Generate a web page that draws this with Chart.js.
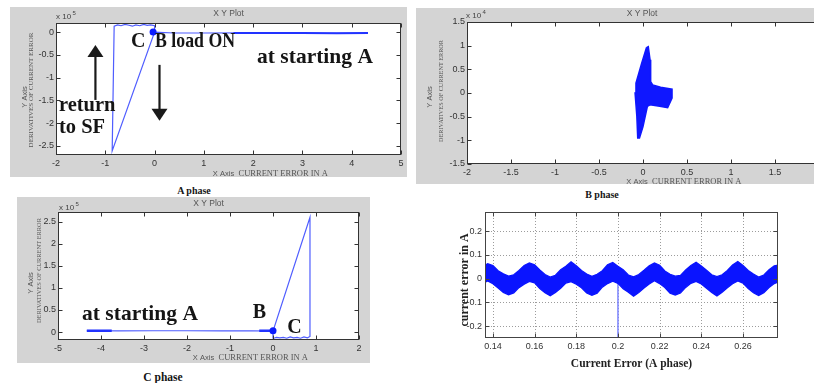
<!DOCTYPE html>
<html>
<head>
<meta charset="utf-8">
<script src="https://cdn.jsdelivr.net/npm/chart.js@4.4.1/dist/chart.umd.min.js"></script>
<style>
body { margin: 0; width: 814px; height: 383px; overflow: hidden; background: #fff; position: relative; }
canvas { position: absolute; }
.cap { position: absolute; font-family: "Liberation Serif", "Times New Roman", serif; font-weight: bold; color: #151515; white-space: nowrap; transform: translate(-50%, -50%); }
</style>
</head>
<body>
<canvas id="chartA" width="397" height="170" style="left:10px;top:7px"></canvas>
<canvas id="chartB" width="420" height="176" style="left:416px;top:8px"></canvas>
<canvas id="chartC" width="353" height="166" style="left:17px;top:197px"></canvas>
<canvas id="chartD" width="360" height="180" style="left:440px;top:200px"></canvas>
<div class="cap" style="left:194px;top:190px;font-size:10px">A phase</div>
<div class="cap" style="left:602px;top:194px;font-size:10px">B phase</div>
<div class="cap" style="left:163px;top:377px;font-size:11.5px">C phase</div>
<script>
// A phase trajectory (current error in A vs derivative, x 10^5)
const aTrajX = [4.33, 3.5, 2.6, 1.8, 1.0, 0.4, 0.0, -0.86, -0.82, -0.75, -0.68, -0.6, -0.52, -0.45, -0.38, -0.3, -0.22, -0.15, -0.08, 0.0, 0.0];
const aTrajY = [-0.02, -0.025, -0.02, -0.015, -0.02, -0.02, 0.0, -2.61, 0.13, 0.16, 0.14, 0.17, 0.15, 0.13, 0.16, 0.14, 0.17, 0.15, 0.16, 0.14, 0.02];
const aStartX = [4.33, 3.7, 3.0, 2.3, 1.6];
const aStartY = [-0.02, -0.025, -0.02, -0.02, -0.02];
const aLoadX = [-0.03];
const aLoadY = [0.0];
const aTicksX = [-2, -1, 0, 1, 2, 3, 4, 5];
const aTicksY = [-2.5, -2, -1.5, -1, -0.5, 0];

// B phase cloud outline (x 10^4)
const bBlobX = [0.04, 0.06, 0.08, 0.087, 0.11, 0.2, 0.33, 0.33, 0.28, 0.19, 0.08, 0.05, 0.0, -0.04, -0.06, -0.07, -0.09, -0.08, -0.015, 0.04];
const bBlobY = [0.96, 0.98, 0.70, 0.24, 0.17, 0.12, 0.08, -0.11, -0.31, -0.28, -0.25, -0.28, -0.71, -0.95, -0.95, -0.49, 0.0, 0.21, 0.63, 0.96];
const bTicksX = [-2, -1.5, -1, -0.5, 0, 0.5, 1, 1.5, 2];
const bTicksY = [-1.5, -1, -0.5, 0, 0.5, 1, 1.5];

// C phase trajectory (x 10^5)
const cTrajX = [-4.33, -3.6, -2.8, -2.0, -1.2, -0.5, 0.0, 0.86, 0.86, 0.8, 0.72, 0.64, 0.56, 0.48, 0.4, 0.32, 0.24, 0.16, 0.08, 0.02, 0.0];
const cTrajY = [0.03, 0.025, 0.03, 0.03, 0.025, 0.03, 0.02, 2.6, -0.1, -0.13, -0.11, -0.14, -0.12, -0.13, -0.11, -0.14, -0.12, -0.13, -0.12, -0.14, -0.04];
const cStartX = [-4.33, -3.75];
const cStartY = [0.03, 0.03];
const cNearX = [-0.32, 0.0];
const cNearY = [0.03, 0.03];
const cLoadX = [0.0];
const cLoadY = [0.03];
const cTicksX = [-5, -4, -3, -2, -1, 0, 1, 2];
const cTicksY = [0, 0.5, 1, 1.5, 2, 2.5];

// Current error (A phase) over time: band envelopes
const dTime = [0.135, 0.1375, 0.14, 0.1425, 0.145, 0.1475, 0.15, 0.1525, 0.155, 0.1575, 0.16, 0.1625, 0.165, 0.1675, 0.17, 0.1725, 0.175, 0.1775, 0.18, 0.1825, 0.185, 0.1875, 0.19, 0.1925, 0.195, 0.1975, 0.2, 0.2025, 0.205, 0.2075, 0.21, 0.2125, 0.215, 0.2175, 0.22, 0.2225, 0.225, 0.2275, 0.23, 0.2325, 0.235, 0.2375, 0.24, 0.2425, 0.245, 0.2475, 0.25, 0.2525, 0.255, 0.2575, 0.26, 0.2625, 0.265, 0.2675, 0.27, 0.2725, 0.275, 0.2775];
const dUpper = [0.050, 0.062, 0.055, 0.033, 0.020, 0.010, 0.016, 0.034, 0.055, 0.066, 0.058, 0.036, 0.017, 0.006, 0.014, 0.037, 0.052, 0.070, 0.054, 0.034, 0.019, 0.009, 0.018, 0.033, 0.058, 0.068, 0.052, 0.037, 0.015, 0.007, 0.017, 0.035, 0.054, 0.066, 0.056, 0.032, 0.018, 0.010, 0.013, 0.036, 0.055, 0.069, 0.053, 0.035, 0.016, 0.008, 0.016, 0.034, 0.057, 0.072, 0.055, 0.034, 0.019, 0.006, 0.015, 0.037, 0.053, 0.058];
const dLower = [-0.020, -0.010, -0.022, -0.040, -0.058, -0.068, -0.060, -0.038, -0.024, -0.012, -0.018, -0.042, -0.060, -0.072, -0.058, -0.041, -0.019, -0.013, -0.024, -0.039, -0.061, -0.070, -0.062, -0.036, -0.021, -0.011, -0.020, -0.043, -0.057, -0.074, -0.059, -0.040, -0.023, -0.009, -0.021, -0.038, -0.062, -0.069, -0.061, -0.037, -0.020, -0.012, -0.023, -0.041, -0.058, -0.073, -0.057, -0.039, -0.022, -0.010, -0.019, -0.042, -0.059, -0.071, -0.060, -0.038, -0.021, -0.012];
const dSpikeX = [0.2, 0.2];
const dSpikeY = [0.0, -0.3];
const dTicksX = [0.14, 0.16, 0.18, 0.2, 0.22, 0.24, 0.26];
const dTicksY = [-0.2, -0.1, 0, 0.1, 0.2];

const SANS = '"Liberation Sans", Arial, sans-serif';
const SERIF = '"Liberation Serif", "Times New Roman", serif';

Chart.defaults.font.family = SANS;
Chart.defaults.font.size = 9;
Chart.defaults.color = '#333';

function pts(xs, ys) {
    return xs.map((x, i) => ({ x: x, y: ys[i] }));
}

function lineSet(xs, ys, color, width, extra) {
    return Object.assign({
        data: pts(xs, ys),
        showLine: true,
        borderColor: color,
        backgroundColor: color,
        borderWidth: width,
        pointRadius: 0,
        tension: 0
    }, extra || {});
}

function dotSet(xs, ys, color, r) {
    return { data: pts(xs, ys), showLine: false, pointRadius: r, pointBackgroundColor: color, pointBorderWidth: 0 };
}

function axis(ticks, min, max, pad, fit) {
    return {
        type: 'linear',
        min: min,
        max: max,
        grid: { display: false, drawTicks: false },
        border: { display: false },
        ticks: { autoSkip: false, maxRotation: 0, padding: pad, callback: v => String(v) },
        afterBuildTicks: s => { s.ticks = ticks.map(v => ({ value: v })); },
        afterFit: fit
    };
}

function drawText(ctx, t, x, y) {
    ctx.save();
    ctx.font = t.font;
    ctx.fillStyle = t.color || '#151515';
    ctx.textAlign = t.align || 'left';
    ctx.textBaseline = t.baseline || 'alphabetic';
    ctx.translate(x, y);
    if (t.rotate) ctx.rotate(-Math.PI / 2);
    if (t.maxWidth) ctx.fillText(t.text, 0, 0, t.maxWidth);
    else ctx.fillText(t.text, 0, 0);
    ctx.restore();
}

// matlab-like frame: grey panel, white plot box, inward ticks, notes
function frame(spec) {
    return {
        id: 'matlabFrame',
        beforeDraw(chart) {
            const ctx = chart.ctx, a = chart.chartArea;
            ctx.save();
            if (spec.panel) {
                ctx.fillStyle = spec.panel;
                ctx.fillRect(0, 0, chart.width, chart.height);
            }
            ctx.fillStyle = '#fff';
            ctx.fillRect(a.left, a.top, a.right - a.left, a.bottom - a.top);
            if (spec.grid) {
                const sx = chart.scales.x, sy = chart.scales.y;
                ctx.strokeStyle = '#9c9c9c';
                ctx.lineWidth = 1;
                ctx.setLineDash([1, 2]);
                ctx.beginPath();
                sx.ticks.forEach(t => {
                    const p = Math.round(sx.getPixelForValue(t.value)) + 0.5;
                    ctx.moveTo(p, a.top); ctx.lineTo(p, a.bottom);
                });
                sy.ticks.forEach(t => {
                    const p = Math.round(sy.getPixelForValue(t.value)) + 0.5;
                    ctx.moveTo(a.left, p); ctx.lineTo(a.right, p);
                });
                ctx.stroke();
            }
            ctx.restore();
        },
        afterDatasetsDraw(chart) {
            const ctx = chart.ctx, a = chart.chartArea;
            const sx = chart.scales.x, sy = chart.scales.y;
            const L = Math.round(a.left) + 0.5, R = Math.round(a.right) - 0.5;
            const T = Math.round(a.top) + 0.5, B = Math.round(a.bottom) - 0.5;
            ctx.save();
            ctx.strokeStyle = spec.box || '#333';
            ctx.lineWidth = 1;
            ctx.strokeRect(L, T, R - L, B - T);
            ctx.beginPath();
            sx.ticks.forEach(t => {
                const p = Math.round(sx.getPixelForValue(t.value)) + 0.5;
                ctx.moveTo(p, B); ctx.lineTo(p, B - 4);
                ctx.moveTo(p, T); ctx.lineTo(p, T + 4);
            });
            sy.ticks.forEach(t => {
                const p = Math.round(sy.getPixelForValue(t.value)) + 0.5;
                ctx.moveTo(L, p); ctx.lineTo(L + 4, p);
                ctx.moveTo(R, p); ctx.lineTo(R - 4, p);
            });
            ctx.stroke();

            (spec.arrows || []).forEach(ar => {
                const x = sx.getPixelForValue(ar.x);
                const y1 = sy.getPixelForValue(ar.from), y2 = sy.getPixelForValue(ar.to);
                const dir = y2 > y1 ? 1 : -1;
                ctx.strokeStyle = '#1a1a1a';
                ctx.fillStyle = '#1a1a1a';
                ctx.lineWidth = 2.2;
                ctx.beginPath();
                ctx.moveTo(x, y1); ctx.lineTo(x, y2 - dir * 11);
                ctx.stroke();
                ctx.beginPath();
                ctx.moveTo(x, y2);
                ctx.lineTo(x - 8, y2 - dir * 12);
                ctx.lineTo(x + 8, y2 - dir * 12);
                ctx.closePath();
                ctx.fill();
            });

            (spec.texts || []).forEach(t => {
                const x = t.data ? sx.getPixelForValue(t.x) : t.x;
                const y = t.data ? sy.getPixelForValue(t.y) : t.y;
                drawText(ctx, t, x, y);
            });
            ctx.restore();
        }
    };
}

function makeChart(id, datasets, scales, padding, spec) {
    return new Chart(document.getElementById(id), {
        type: 'scatter',
        data: { datasets: datasets },
        options: {
            responsive: false,
            animation: false,
            layout: { padding: padding },
            scales: scales,
            plugins: { legend: { display: false }, tooltip: { enabled: false } }
        },
        plugins: [frame(spec)]
    });
}

// shared grey-panel labels
function panelTexts(cx, titleY, expX, expY, expo, xLabY, yAxX, yAxY, derX, derY, derW) {
    return [
        { text: 'X Y Plot', x: cx, y: titleY, font: '8.5px ' + SANS, color: '#555', align: 'center', baseline: 'middle' },
        { text: 'x 10', x: expX, y: expY, font: '8px ' + SANS, color: '#444' },
        { text: expo, x: expX + 16.5, y: expY - 4, font: '6px ' + SANS, color: '#444' },
        { text: 'X Axis', x: cx - 5, y: xLabY, font: '7.5px ' + SANS, color: '#555', align: 'center', baseline: 'middle' },
        { text: 'CURRENT ERROR IN A', x: cx + 10, y: xLabY, font: '8.5px ' + SERIF, color: '#555', baseline: 'middle' },
        { text: 'Y Axis', x: yAxX, y: yAxY, font: '7.5px ' + SANS, color: '#555', align: 'center', baseline: 'middle', rotate: true },
        { text: 'DERIVATIVES OF CURRENT ERROR', x: derX, y: derY, font: '7px ' + SERIF, color: '#555', align: 'center', baseline: 'middle', rotate: true, maxWidth: derW }
    ];
}

const boldSerif = size => 'bold ' + size + 'px ' + SERIF;

// A phase
makeChart('chartA', [
    dotSet(aLoadX, aLoadY, '#0b1cff', 3.5),
    lineSet(aStartX, aStartY, '#2233ff', 2.2),
    lineSet(aTrajX, aTrajY, '#4f5dff', 1.2)
], {
    x: axis(aTicksX, -2, 5, 3, s => { s.height = 22; }),
    y: axis(aTicksY, -2.7, 0.2, 2, s => { s.width = 46; })
}, { top: 16, right: 6, left: 0, bottom: 0 }, {
    panel: '#d4d4d4',
    arrows: [{ x: -1.2, from: -1.49, to: -0.285 }, { x: 0.1, from: -0.72, to: -1.95 }],
    texts: panelTexts(218.5, 6.5, 46, 12, '5', 167, 14.5, 90, 21, 83, 120).concat([
        { text: 'C', x: -0.48, y: -0.33, data: true, font: boldSerif(20) },
        { text: 'B load ON', x: 0.01, y: -0.33, data: true, font: boldSerif(20), maxWidth: 80 },
        { text: 'at starting A', x: 2.08, y: -0.68, data: true, font: boldSerif(21.5) },
        { text: 'return', x: -1.94, y: -1.73, data: true, font: boldSerif(20.5) },
        { text: 'to SF', x: -1.94, y: -2.21, data: true, font: boldSerif(20.5) }
    ])
});

// B phase
makeChart('chartB', [
    lineSet(bBlobX, bBlobY, '#0f17ff', 1.5, { fill: 'shape' })
], {
    x: axis(bTicksX, -2, 2, 3, s => { s.height = 20; }),
    y: axis(bTicksY, -1.5, 1.5, 2, s => { s.width = 51; })
}, { top: 14, right: 17, left: 0, bottom: 0 }, {
    panel: '#d4d4d4',
    texts: panelTexts(226, 6, 50, 10, '4', 174, 14, 89, 25, 83, 102)
});

// C phase
makeChart('chartC', [
    dotSet(cLoadX, cLoadY, '#0b1cff', 3.5),
    lineSet(cStartX, cStartY, '#2233ff', 2.5),
    lineSet(cNearX, cNearY, '#2233ff', 2.5),
    lineSet(cTrajX, cTrajY, '#4f5dff', 1.2)
], {
    x: axis(cTicksX, -5, 2, 3, s => { s.height = 23; }),
    y: axis(cTicksY, -0.18, 2.72, 2, s => { s.width = 41; })
}, { top: 15, right: 11, left: 0, bottom: 0 }, {
    panel: '#d4d4d4',
    texts: panelTexts(191.5, 7, 42, 13, '5', 161, 13.5, 86, 22, 73.5, 105).concat([
        { text: 'at starting A', x: -4.44, y: 0.27, data: true, font: boldSerif(21.5) },
        { text: 'B', x: -0.47, y: 0.32, data: true, font: boldSerif(20) },
        { text: 'C', x: 0.33, y: -0.02, data: true, font: boldSerif(20) }
    ])
});

// Current error A phase vs time
makeChart('chartD', [
    lineSet(dTime, dUpper, '#0a14ff', 1.3, { fill: '+1' }),
    lineSet(dTime, dLower, '#0a14ff', 1.3),
    lineSet(dSpikeX, dSpikeY, '#7d86ff', 1.5)
], {
    x: axis(dTicksX, 0.1362, 0.2768, 3, s => { s.height = 42; }),
    y: axis(dTicksY, -0.25, 0.28, 3, s => { s.width = 45; })
}, { top: 12, right: 22, left: 0, bottom: 0 }, {
    grid: true,
    box: '#444',
    texts: [
        { text: 'current error in A', x: 25, y: 80, font: boldSerif(12), color: '#222', align: 'center', baseline: 'middle', rotate: true },
        { text: 'Current Error (A phase)', x: 191.5, y: 164, font: boldSerif(11.5), color: '#222', align: 'center', baseline: 'middle' }
    ]
});
</script>
</body>
</html>
